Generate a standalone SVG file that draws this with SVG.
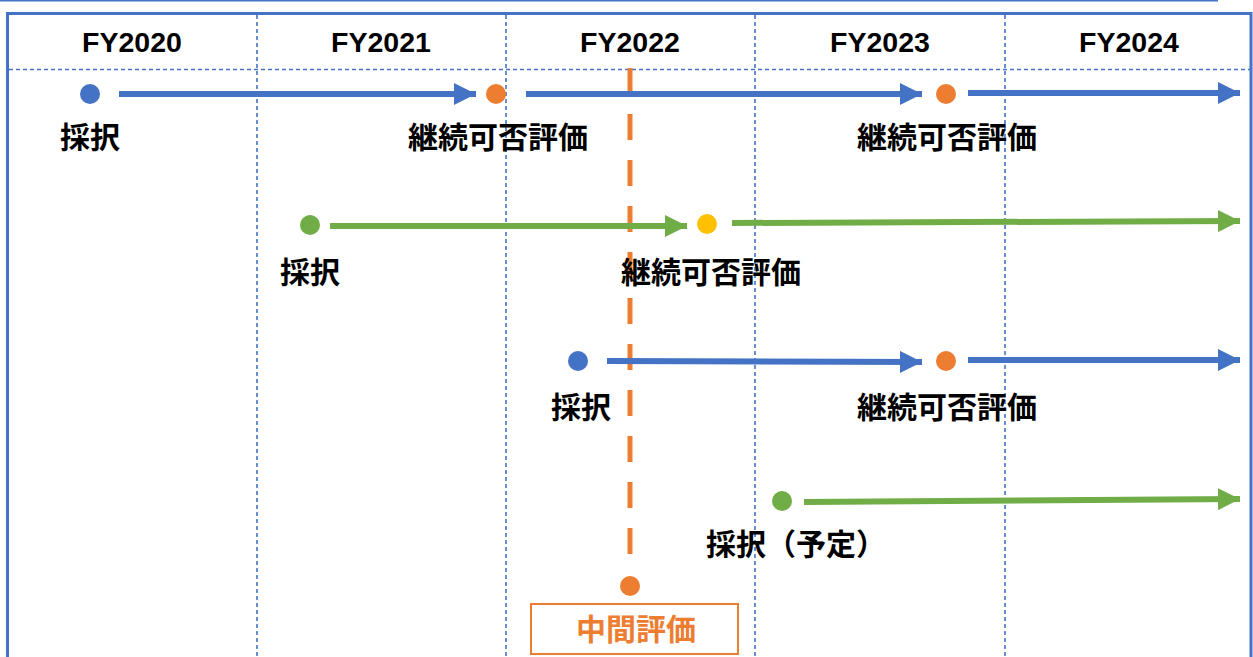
<svg xmlns="http://www.w3.org/2000/svg" width="1253" height="657" viewBox="0 0 1253 657">
<defs>
<style>
.grid{stroke:#4472C4;stroke-width:1.6;stroke-dasharray:4 3;fill:none}
.hdr{font-family:"Liberation Sans",Arial,sans-serif;font-weight:bold;font-size:28.5px;fill:#000;text-anchor:middle}
.lbl{font-family:"Noto Sans CJK JP","Noto Sans CJK SC",sans-serif;font-weight:bold;font-size:30px;fill:#000;text-anchor:middle;dominant-baseline:central}
.blue{stroke:#4472C4;stroke-width:6;fill:none}
.green{stroke:#70AD47;stroke-width:6;fill:none}
</style>
<marker id="ab" markerUnits="userSpaceOnUse" markerWidth="24" markerHeight="22" refX="22" refY="11" orient="auto"><path d="M0,0 L22,11 L0,22 Z" fill="#4472C4"/></marker>
<marker id="ag" markerUnits="userSpaceOnUse" markerWidth="24" markerHeight="22" refX="22" refY="11" orient="auto"><path d="M0,0 L22,11 L0,22 Z" fill="#70AD47"/></marker>
</defs>
<rect width="1253" height="657" fill="#fff"/>
<g id="frame">
<line x1="0" y1="0.8" x2="1218" y2="0.8" stroke="#4472C4" stroke-width="1.5"/>
<path d="M7.5,660 V13.5 H1251 V660" stroke="#4472C4" stroke-width="3" fill="none"/>
<line class="grid" x1="9" y1="69.5" x2="1250" y2="69.5"/>
<line class="grid" x1="257" y1="15" x2="257" y2="657"/>
<line class="grid" x1="506" y1="15" x2="506" y2="657"/>
<line class="grid" x1="755" y1="15" x2="755" y2="657"/>
<line class="grid" x1="1005" y1="15" x2="1005" y2="657"/>
</g>
<g id="headers">
<text class="hdr" x="132" y="52">FY2020</text>
<text class="hdr" x="381" y="52">FY2021</text>
<text class="hdr" x="630" y="52">FY2022</text>
<text class="hdr" x="880" y="52">FY2023</text>
<text class="hdr" x="1129" y="52">FY2024</text>
</g>
<g id="midterm-line">
<line x1="630" y1="68" x2="630" y2="560" stroke="#ED7D31" stroke-width="5" stroke-dasharray="26 20"/>
</g>
<g id="connectors">
<line class="blue" x1="119" y1="94" x2="476" y2="94" marker-end="url(#ab)"/>
<line class="blue" x1="526" y1="94" x2="922" y2="94" marker-end="url(#ab)"/>
<line class="blue" x1="968" y1="93" x2="1240" y2="93" marker-end="url(#ab)"/>
<line class="green" x1="330" y1="226" x2="687" y2="226" marker-end="url(#ag)"/>
<line class="green" x1="732" y1="223" x2="1240" y2="221" marker-end="url(#ag)"/>
<line class="blue" x1="607" y1="361" x2="922" y2="362" marker-end="url(#ab)"/>
<line class="blue" x1="968" y1="360" x2="1240" y2="360" marker-end="url(#ab)"/>
<line class="green" x1="804" y1="502" x2="1240" y2="499" marker-end="url(#ag)"/>
</g>
<g id="row1-start"><circle cx="90" cy="94" r="10" fill="#4472C4"/><text class="lbl" x="90" y="135">採択</text></g>
<g id="row1-eval1"><circle cx="496" cy="94" r="10" fill="#ED7D31"/><text class="lbl" x="498" y="135">継続可否評価</text></g>
<g id="row1-eval2"><circle cx="946" cy="94" r="10" fill="#ED7D31"/><text class="lbl" x="947" y="135">継続可否評価</text></g>
<g id="row2-start"><circle cx="310" cy="225" r="10" fill="#70AD47"/><text class="lbl" x="310" y="270">採択</text></g>
<g id="row2-eval"><circle cx="707" cy="224" r="10" fill="#FFC000"/><text class="lbl" x="711" y="270">継続可否評価</text></g>
<g id="row3-start"><circle cx="578" cy="361" r="10" fill="#4472C4"/><text class="lbl" x="581" y="405">採択</text></g>
<g id="row3-eval"><circle cx="946" cy="361" r="10" fill="#ED7D31"/><text class="lbl" x="947" y="405">継続可否評価</text></g>
<g id="row4-start"><circle cx="782" cy="501" r="10" fill="#70AD47"/><text class="lbl" x="796" y="542">採択（予定）</text></g>
<g id="midterm"><circle cx="630" cy="586" r="10" fill="#ED7D31"/><rect x="531" y="604" width="207" height="50" fill="#fff" stroke="#ED7D31" stroke-width="2"/><text class="lbl" x="636" y="627" style="fill:#ED7D31">中間評価</text></g>
</svg>
